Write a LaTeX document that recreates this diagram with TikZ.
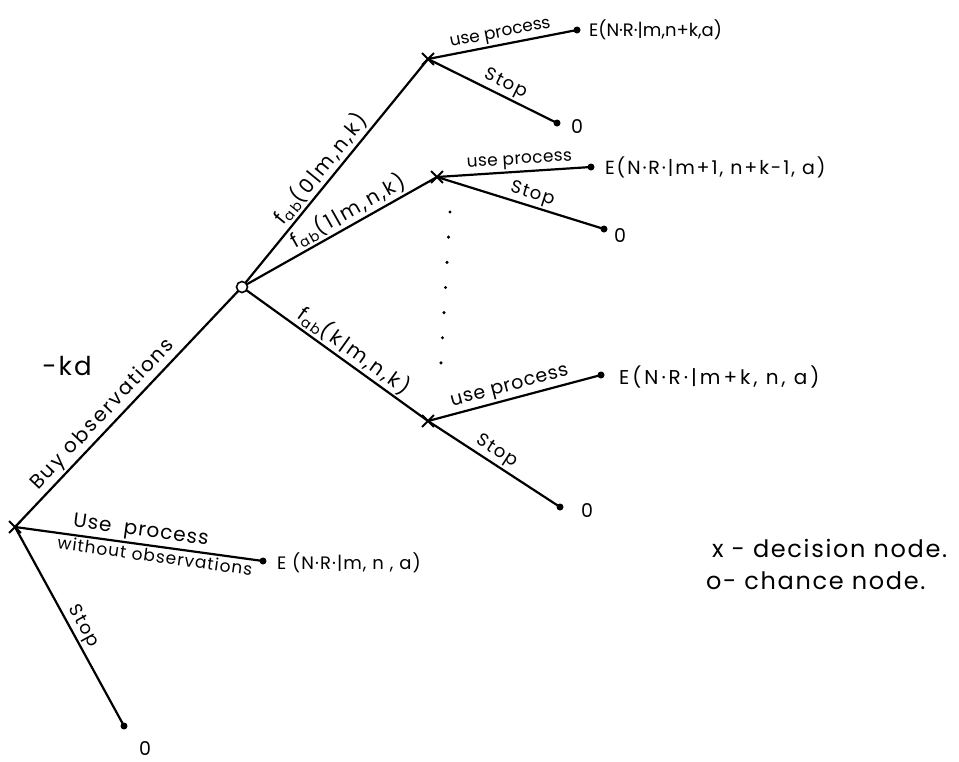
\documentclass[tikz,border=0pt]{standalone}
\usepackage{fontspec}
\setmainfont{Poppins}
\usetikzlibrary{shapes.misc}
\newcommand{\fsz}[2]{\fontsize{#2}{#2}\selectfont\addfontfeature{LetterSpace=#1}}
\tikzset{
  dec/.style={cross out,draw,minimum size=10pt,inner sep=0pt,line width=1.8pt},
  chance/.style={circle,draw,fill=white,minimum size=11pt,inner sep=0pt,line width=1.6pt},
  leaf/.style={circle,fill,minimum size=7pt,inner sep=0pt},
  lbl/.style={font={\fsz{0}{17}},sloped,inner sep=2pt},
  stoplbl/.style={lbl,font={\fsz{8}{18}}},
  fablbl/.style={lbl,font={\fsz{12}{20}}},
  endlbl/.style={anchor=west},
  dotsline/.style={line width=3.4pt,line cap=round,dash pattern=on 0pt off 25.2pt}}
\begin{document}
\begin{tikzpicture}[x=1pt,y=-1pt,line width=2.2pt,
  every node/.style={font={\fsz{0}{17}},inner sep=1pt}]
\useasboundingbox (0,0) rectangle (959,761);
% positions
\coordinate (R) at (15,527);
\coordinate (C) at (242,287);
\coordinate (D1) at (428,59);
\coordinate (D2) at (437,177);
\coordinate (D3) at (428,421);
\coordinate (D1u) at (577,30);
\coordinate (D1s) at (557,123);
\coordinate (D2u) at (591,167);
\coordinate (D2s) at (604,229);
\coordinate (D3u) at (601,375);
\coordinate (D3s) at (560,507);
\coordinate (Ru) at (263,561);
\coordinate (Rs) at (124,726);
\coordinate (dotA) at (450,212);
\coordinate (dotB) at (441,363);
% connectors
\draw (R) -- node[lbl,above,pos=0.43,font={\fsz{10}{20}}] {Buy observations} (C);
\draw (R) -- node[lbl,above,pos=0.5,font={\fsz{5}{20}}] {Use\ \ process} node[lbl,below,pos=0.57,font={\fsz{6}{17}}] {without observations} (Ru);
\draw (R) -- node[stoplbl,above,pos=0.53] {Stop} (Rs);
\draw (C) -- node[fablbl,above,pos=0.48] {f\textsubscript{ab}(0|m,n,k)} (D1);
\draw (C) -- node[fablbl,above,pos=0.58] {f\textsubscript{ab}(1|m,n,k)} (D2);
\draw (C) -- node[fablbl,above,pos=0.56] {f\textsubscript{ab}(k|m,n,k)} (D3);
\draw (D1) -- node[lbl,above,pos=0.5] {use process} (D1u);
\draw (D1) -- node[stoplbl,above,pos=0.56] {Stop} (D1s);
\draw (D2) -- node[lbl,above,pos=0.54,font={\fsz{2}{17}}] {use process} (D2u);
\draw (D2) -- node[stoplbl,above,pos=0.55] {Stop} (D2s);
\draw (D3) -- node[lbl,above,pos=0.49,font={\fsz{4}{19}}] {use process} (D3u);
\draw (D3) -- node[stoplbl,above,pos=0.47] {Stop} (D3s);
\draw[dotsline] (dotA) -- (dotB);
% nodes
\node[dec] (nR) at (R) {};
\node[chance] (nC) at (C) {};
\node[dec] (nD1) at (D1) {};
\node[dec] (nD2) at (D2) {};
\node[dec] (nD3) at (D3) {};
\foreach \p in {D1u,D1s,D2u,D2s,D3u,D3s,Ru,Rs} \node[leaf] (l\p) at (\p) {};
% end labels
\node[endlbl,font={\fsz{0}{18}}] (eD1u) at (587,30) {E(N·R·|m,n+k,a)};
\node[font={\fsz{0}{19}}] (eD1s) at (577,127) {0};
\node[endlbl,font={\fsz{10}{19}}] (eD2u) at (603,167) {E(N·R·|m+1, n+k-1, a)};
\node[font={\fsz{0}{19}}] (eD2s) at (620,236) {0};
\node[endlbl,font={\fsz{15}{20}}] (eD3u) at (617,377) {E(N·R·|m+k, n, a)};
\node[font={\fsz{0}{19}}] (eD3s) at (587,511) {0};
\node[endlbl,font={\fsz{6}{18}}] (eRu) at (275,563) {E (N·R·|m, n , a)};
\node[font={\fsz{0}{19}}] (eRs) at (145,749) {0};
\node[font={\fsz{8}{26}}] (kd) at (67,366) {-kd};
% legend
\node[anchor=west,font={\fsz{7}{24}}] (leg1) at (710,548) {x - decision node.};
\node[anchor=west,font={\fsz{7}{24}}] (leg2) at (704,581) {o- chance node.};
\end{tikzpicture}
\end{document}
